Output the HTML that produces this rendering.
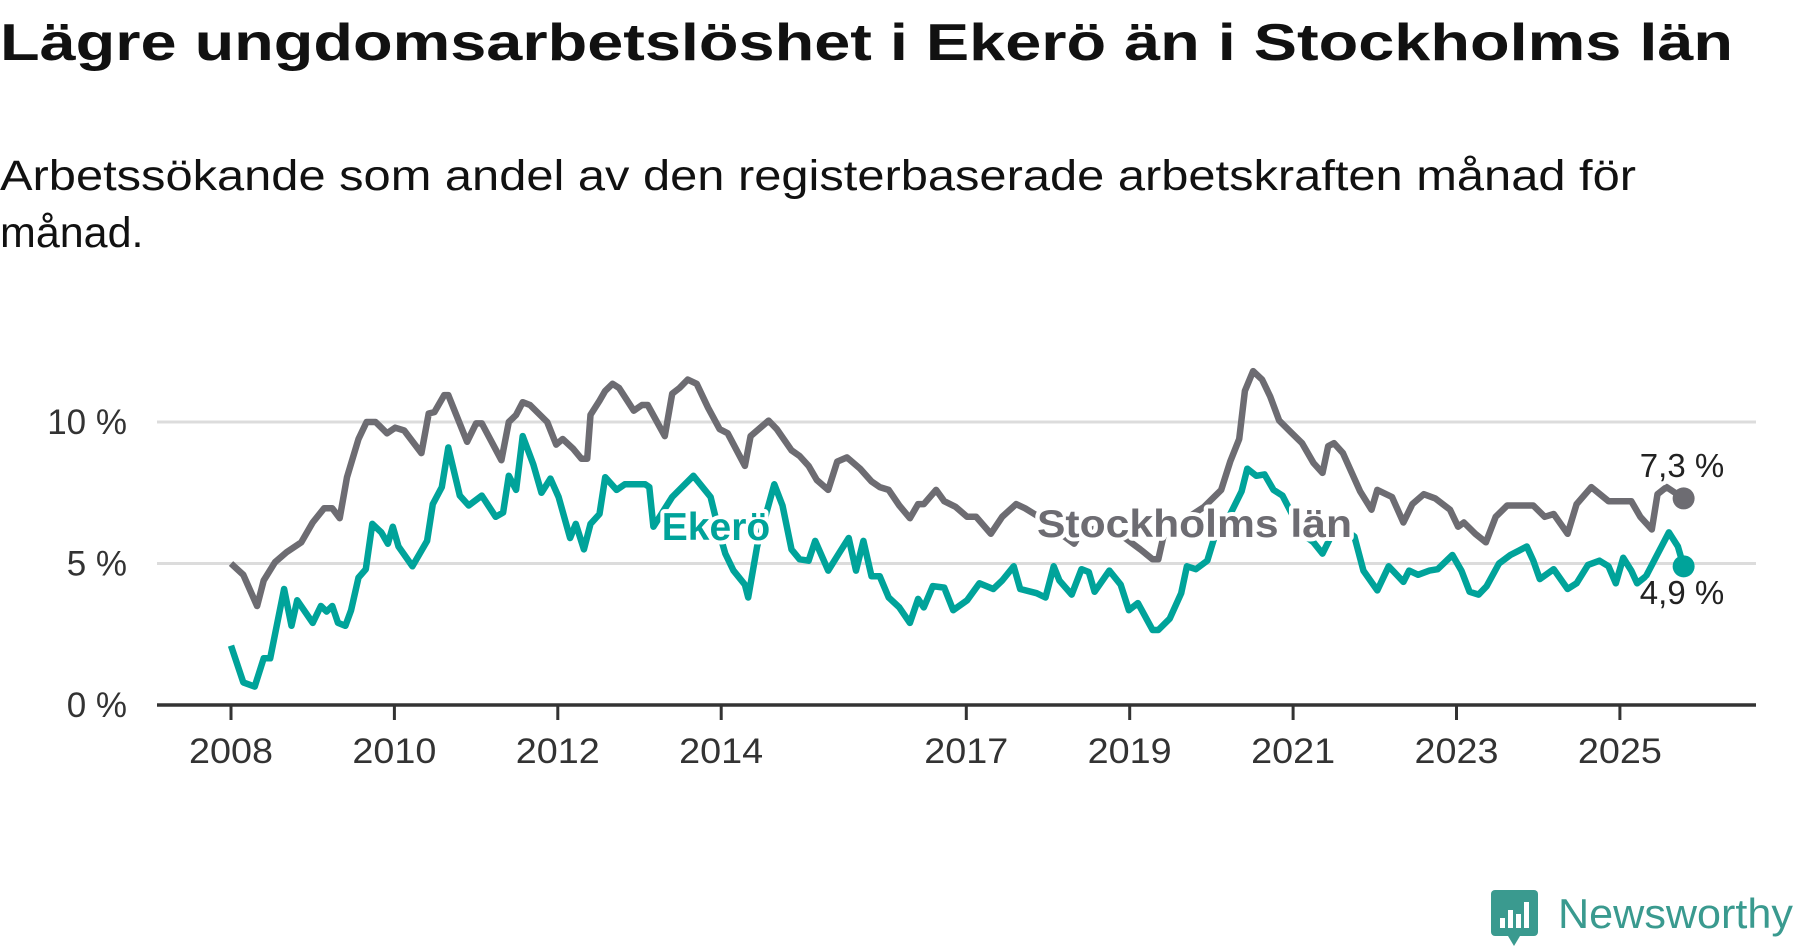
<!DOCTYPE html>
<html><head><meta charset="utf-8">
<style>
html,body{margin:0;padding:0;background:#fff;}
svg{display:block;font-family:"Liberation Sans",sans-serif;}
</style></head>
<body>
<svg width="1800" height="948" viewBox="0 0 1800 948">
<text x="0" y="60" font-size="52" font-weight="bold" fill="#111" textLength="1733" lengthAdjust="spacingAndGlyphs">Lägre ungdomsarbetslöshet i Ekerö än i Stockholms län</text>
<text x="0" y="190" font-size="43" fill="#111" textLength="1636" lengthAdjust="spacingAndGlyphs">Arbetssökande som andel av den registerbaserade arbetskraften månad för</text>
<text x="0" y="247" font-size="43" fill="#111">månad.</text>
<g id="grid"></g>
<g id="lines"></g>
<g id="labels"></g>
<g>
<rect x="1491" y="890" width="47" height="46" rx="4" fill="#3a9a8f"/>
<polygon points="1508,936 1520,936 1514,946" fill="#3a9a8f"/>
<rect x="1500" y="918" width="5" height="10" fill="#fff"/><rect x="1508" y="910" width="5" height="18" fill="#fff"/><rect x="1516" y="914" width="5" height="14" fill="#fff"/><rect x="1524" y="902" width="5" height="26" fill="#fff"/>
<text x="1558" y="928" font-size="42" fill="#3a9a8f" textLength="235" lengthAdjust="spacingAndGlyphs">Newsworthy</text>
</g>
</svg>
<script>
const yTicks=[0,5,10];
const yTickLabels=["0 %","5 %","10 %"];
const xTicks=[2008,2010,2012,2014,2017,2019,2021,2023,2025];
const stockholmDates=[2008.00,2008.15,2008.32,2008.40,2008.54,2008.68,2008.86,2009.00,2009.14,2009.24,2009.33,2009.42,2009.56,2009.66,2009.77,2009.91,2010.01,2010.12,2010.33,2010.42,2010.49,2010.61,2010.66,2010.89,2011.00,2011.07,2011.31,2011.40,2011.49,2011.57,2011.66,2011.87,2011.98,2012.06,2012.19,2012.29,2012.36,2012.40,2012.51,2012.58,2012.67,2012.75,2012.93,2013.03,2013.10,2013.31,2013.40,2013.49,2013.59,2013.70,2013.84,2013.98,2014.08,2014.29,2014.36,2014.58,2014.68,2014.86,2014.96,2015.07,2015.17,2015.31,2015.42,2015.54,2015.70,2015.84,2015.94,2016.05,2016.18,2016.31,2016.41,2016.48,2016.63,2016.73,2016.87,2017.01,2017.12,2017.30,2017.44,2017.61,2017.72,2017.86,2018.00,2018.11,2018.32,2018.39,2018.64,2018.85,2018.99,2019.13,2019.28,2019.35,2019.42,2019.70,2019.91,2020.12,2020.23,2020.34,2020.41,2020.51,2020.62,2020.72,2020.83,2020.97,2021.11,2021.25,2021.36,2021.43,2021.50,2021.61,2021.82,2021.96,2022.03,2022.21,2022.35,2022.46,2022.60,2022.74,2022.92,2023.02,2023.09,2023.23,2023.36,2023.48,2023.62,2023.94,2024.08,2024.19,2024.36,2024.47,2024.65,2024.86,2025.14,2025.25,2025.39,2025.46,2025.57,2025.78];
const stockholmValues=[5.0,4.6,3.5,4.4,5.05,5.4,5.75,6.45,6.95,6.95,6.6,8.05,9.4,10.0,10.0,9.6,9.8,9.7,8.9,10.3,10.35,10.95,10.95,9.3,9.95,9.95,8.65,10.0,10.25,10.7,10.6,10.0,9.2,9.4,9.05,8.7,8.7,10.25,10.75,11.1,11.35,11.2,10.4,10.6,10.6,9.5,11.0,11.2,11.5,11.35,10.5,9.75,9.6,8.45,9.5,10.05,9.75,9.0,8.8,8.45,7.95,7.6,8.6,8.75,8.35,7.9,7.7,7.6,7.05,6.6,7.1,7.1,7.6,7.2,7.0,6.65,6.65,6.05,6.65,7.1,6.95,6.7,6.4,6.15,5.7,6.05,6.3,6.1,5.8,5.5,5.15,5.15,6.05,6.6,7.0,7.6,8.6,9.4,11.1,11.8,11.5,10.9,10.05,9.65,9.25,8.55,8.2,9.15,9.25,8.9,7.55,6.9,7.6,7.35,6.45,7.1,7.45,7.3,6.9,6.3,6.45,6.05,5.75,6.65,7.05,7.05,6.65,6.75,6.05,7.1,7.7,7.2,7.2,6.65,6.2,7.45,7.7,7.3];
const ekeroDates=[2008.00,2008.15,2008.29,2008.40,2008.48,2008.65,2008.74,2008.81,2009.00,2009.10,2009.17,2009.24,2009.31,2009.40,2009.47,2009.56,2009.65,2009.73,2009.84,2009.92,2009.98,2010.05,2010.22,2010.40,2010.47,2010.58,2010.66,2010.80,2010.91,2011.07,2011.24,2011.33,2011.40,2011.49,2011.57,2011.70,2011.80,2011.91,2012.01,2012.15,2012.22,2012.32,2012.40,2012.51,2012.58,2012.72,2012.82,2013.07,2013.12,2013.17,2013.40,2013.66,2013.87,2013.98,2014.05,2014.15,2014.29,2014.33,2014.44,2014.65,2014.75,2014.86,2014.96,2015.07,2015.15,2015.31,2015.45,2015.56,2015.65,2015.74,2015.84,2015.94,2016.05,2016.18,2016.31,2016.41,2016.48,2016.59,2016.73,2016.84,2017.01,2017.16,2017.33,2017.44,2017.58,2017.66,2017.86,2017.97,2018.07,2018.14,2018.29,2018.41,2018.50,2018.57,2018.75,2018.89,2018.99,2019.10,2019.28,2019.35,2019.49,2019.63,2019.70,2019.81,2019.95,2020.05,2020.19,2020.37,2020.44,2020.55,2020.65,2020.76,2020.87,2021.11,2021.25,2021.36,2021.54,2021.75,2021.86,2022.03,2022.17,2022.35,2022.42,2022.53,2022.67,2022.77,2022.95,2023.06,2023.16,2023.27,2023.37,2023.52,2023.66,2023.76,2023.86,2023.94,2024.02,2024.19,2024.36,2024.47,2024.61,2024.75,2024.86,2024.95,2025.04,2025.14,2025.21,2025.32,2025.60,2025.71,2025.78];
const ekeroValues=[2.1,0.8,0.65,1.65,1.65,4.1,2.8,3.7,2.9,3.5,3.3,3.5,2.9,2.8,3.35,4.5,4.8,6.4,6.1,5.7,6.3,5.6,4.9,5.8,7.1,7.7,9.1,7.4,7.05,7.4,6.65,6.8,8.1,7.6,9.5,8.5,7.5,8.0,7.35,5.9,6.4,5.5,6.4,6.75,8.05,7.6,7.8,7.8,7.7,6.3,7.35,8.1,7.35,6.05,5.35,4.75,4.25,3.8,5.6,7.8,7.05,5.5,5.15,5.1,5.8,4.75,5.4,5.9,4.75,5.8,4.55,4.55,3.8,3.45,2.9,3.75,3.45,4.2,4.15,3.35,3.7,4.3,4.1,4.4,4.9,4.1,3.95,3.8,4.9,4.4,3.9,4.8,4.7,4.0,4.75,4.25,3.35,3.6,2.65,2.65,3.05,3.95,4.9,4.8,5.1,6.05,6.5,7.55,8.35,8.1,8.15,7.6,7.4,6.05,5.75,5.35,6.4,5.95,4.75,4.05,4.9,4.35,4.75,4.6,4.75,4.8,5.3,4.75,4.0,3.9,4.2,5.0,5.3,5.45,5.6,5.1,4.45,4.8,4.1,4.3,4.95,5.1,4.9,4.3,5.2,4.75,4.3,4.55,6.1,5.6,4.9];
const endLabels=["7,3 %","4,9 %"];

const NS="http://www.w3.org/2000/svg";
const X0=157,X1=1756;
function xs(y){return 231+(y-2008)*81.7;}
function ys(v){return 705-v*28.3;}
function mk(tag,attrs,parent){const e=document.createElementNS(NS,tag);for(const k in attrs)e.setAttribute(k,attrs[k]);parent.appendChild(e);return e;}
const grid=document.getElementById('grid'),lines=document.getElementById('lines'),labels=document.getElementById('labels');
yTicks.forEach((t,i)=>{
  if(t>0){const g=mk('line',{x1:X0,x2:X1,y1:ys(t),y2:ys(t),stroke:'#dcdcdc','stroke-width':3},grid);
  
  }
  const tx=mk('text',{x:127,y:ys(t)+12,'text-anchor':'end','font-size':35,fill:'#333'},grid);
  tx.textContent=yTickLabels[i];
  
  
});
const ax=mk('line',{x1:X0,x2:X1,y1:705,y2:705,stroke:'#333','stroke-width':3.5},grid);


xTicks.forEach(t=>{
  const tk=mk('line',{x1:xs(t),x2:xs(t),y1:705,y2:720,stroke:'#333','stroke-width':3},grid);
  
  
  const tx=mk('text',{x:xs(t),y:763,'text-anchor':'middle','font-size':35,fill:'#333','textLength':84,'lengthAdjust':'spacingAndGlyphs'},grid);
  tx.textContent=t;
  
  
});
function path(d,v){return d.map((y,i)=>(i?'L':'M')+xs(y).toFixed(1)+' '+ys(v[i]).toFixed(1)).join(' ');}
const ps=mk('path',{d:path(stockholmDates,stockholmValues),fill:'none',stroke:'#6d6c72','stroke-width':6.5,'stroke-linejoin':'round'},lines);


const pe=mk('path',{d:path(ekeroDates,ekeroValues),fill:'none',stroke:'#00a39a','stroke-width':6.5,'stroke-linejoin':'round'},lines);


const ls=stockholmDates.length-1,le=ekeroDates.length-1;
const ds=mk('circle',{cx:xs(stockholmDates[ls]),cy:ys(stockholmValues[ls]),r:11,fill:'#6d6c72'},lines);


const de=mk('circle',{cx:xs(ekeroDates[le]),cy:ys(ekeroValues[le]),r:11,fill:'#00a39a'},lines);


function lab(txt,x,y,col,size,bold,anchor){const t=mk('text',{x:x,y:y,'font-size':size,fill:col,'font-weight':bold?'bold':'normal','text-anchor':anchor,stroke:'#fff','stroke-width':8,'paint-order':'stroke','stroke-linejoin':'round'},labels);t.textContent=txt;return t;}
const l1=lab('Ekerö',716,540,'#00a39a',39,true,'middle');


const l2=lab('Stockholms län',1037,537,'#6d6c72',39,true,'start');
l2.setAttribute('textLength','315');
l2.setAttribute('lengthAdjust','spacingAndGlyphs');


const l3=lab(endLabels[0],1682,477,'#222',33,false,'middle');


const l4=lab(endLabels[1],1682,604,'#222',33,false,'middle');


</script>
</body></html>
